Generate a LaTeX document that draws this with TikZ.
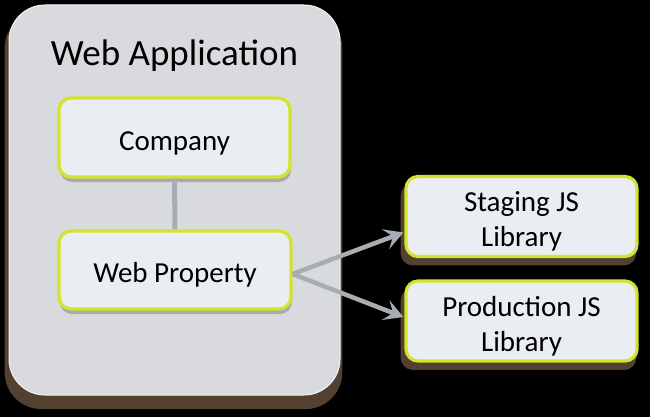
\documentclass[tikz,border=0pt]{standalone}
\usepackage{fontspec}
\setmainfont{Carlito}
\usetikzlibrary{arrows.meta,shadows,calc}
\definecolor{appfill}{RGB}{216,218,222}
\definecolor{appshadow}{RGB}{82,64,48}
\definecolor{boxfill}{RGB}{234,237,241}
\definecolor{boxborder}{RGB}{212,228,44}
\definecolor{conngray}{RGB}{168,173,180}
\newcommand{\boxtopstrut}{\rule{0pt}{32pt}}
\newcommand{\boxbotstrut}{\rule[-7pt]{0pt}{7pt}}
\begin{document}
\begin{tikzpicture}[x=1pt,y=-1pt,
  container/.style={fill=appfill, draw=white!70!appfill, line width=1pt, rounded corners=36pt,
    minimum width=331pt, minimum height=390pt, inner sep=0pt,
    drop shadow={shadow xshift=-1pt, shadow yshift=-10pt, shadow scale=1.02, fill=appshadow, opacity=1}},
  boxbase/.style={fill=boxfill, draw=boxborder, line width=3.2pt, rounded corners=12pt,
    align=center, inner sep=0pt, font=\fontsize{29}{35}\selectfont},
  innerbox/.style={boxbase, drop shadow={shadow xshift=1pt, shadow yshift=-5pt, fill=black, opacity=0.22}},
  outerbox/.style={boxbase, drop shadow={shadow xshift=-3pt, shadow yshift=-8pt, shadow scale=1.02, fill=appshadow, opacity=1}},
  conn/.style={draw=conngray, line width=5pt},
  arrowconn/.style={conn, line width=4.5pt, -{Stealth[length=19pt,width=21pt,inset=8pt]}},
]
\useasboundingbox (0,0) rectangle (650,417);
\fill[black] (0,0) rectangle (650,417);
\node[container] (app) at (174.5,200) {};
\node[font=\fontsize{37}{40}\selectfont] (title) at (174.5,56) {Web Application};
\node[innerbox, minimum width=231pt, minimum height=79pt] (company) at (174.5,137.5) {\boxtopstrut Company\boxbotstrut};
\node[innerbox, minimum width=232pt, minimum height=78pt] (webprop) at (175,270) {\boxtopstrut Web Property\boxbotstrut};
\node[outerbox, minimum width=231pt, minimum height=80pt] (staging) at (521.5,216.5) {\boxtopstrut Staging JS\\Library\boxbotstrut};
\node[outerbox, minimum width=231pt, minimum height=80pt] (production) at (521.5,321) {\boxtopstrut Production JS\\Library\boxbotstrut};
\draw[conn] (company.south) -- (webprop.north);
\coordinate (start) at ($(webprop.east)+(0,4)$);
\coordinate (stagingend) at ($(staging.west)+(-1,16)$);
\coordinate (prodend) at ($(production.west)+(-1,-4)$);
\draw[arrowconn] (start) -- (stagingend);
\draw[arrowconn] (start) -- (prodend);
\end{tikzpicture}
\end{document}
